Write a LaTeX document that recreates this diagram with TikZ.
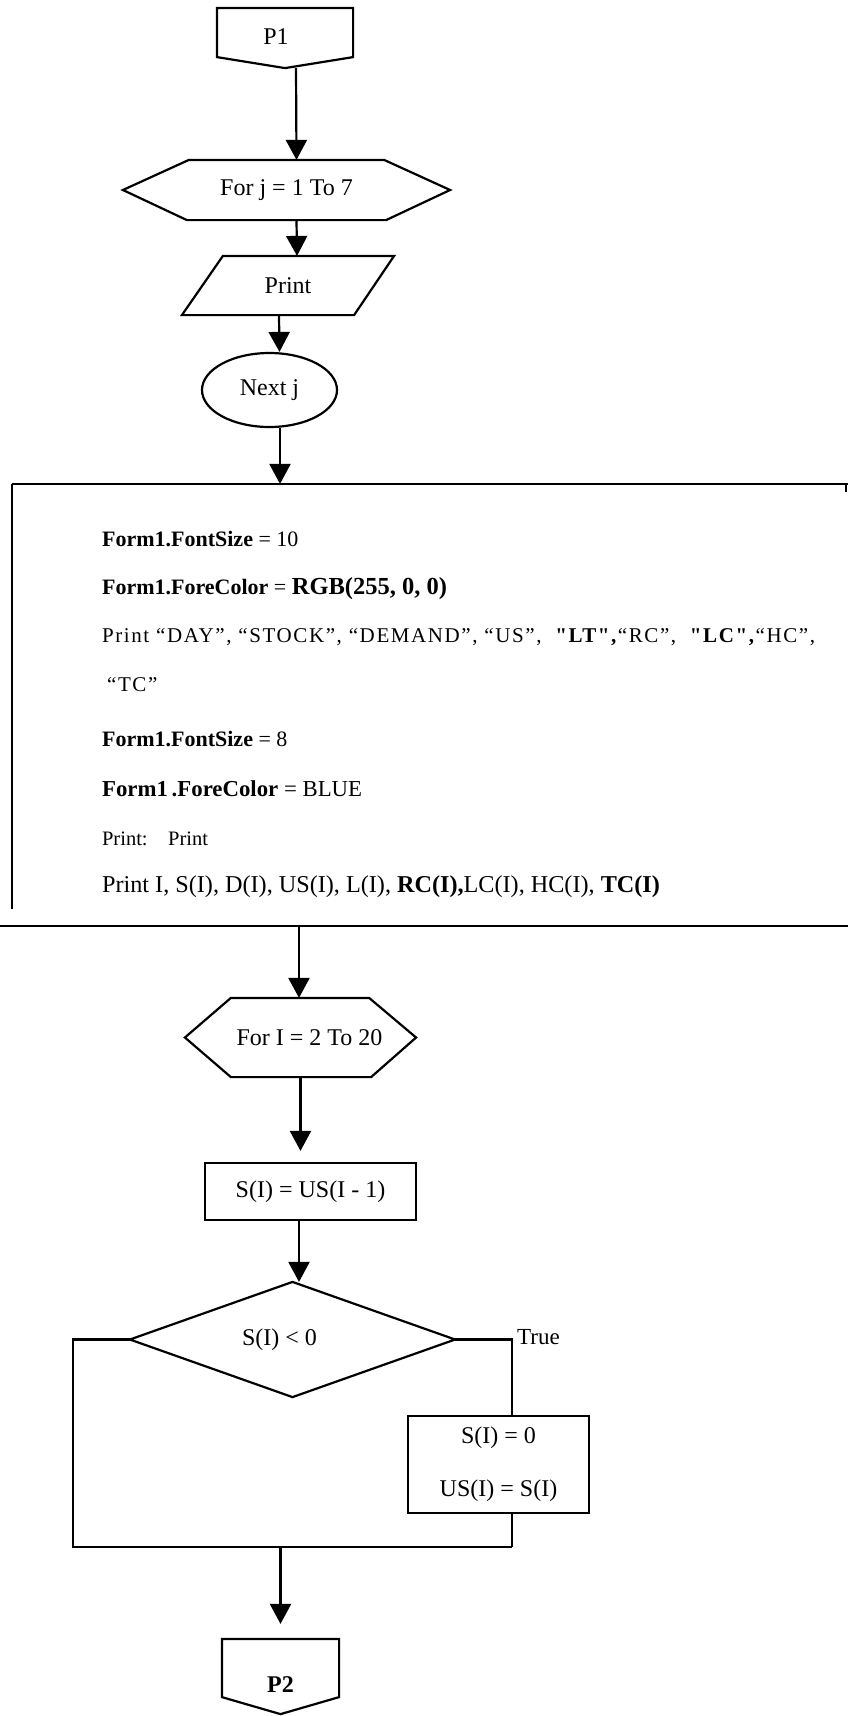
\documentclass[tikz,border=0pt]{standalone}
\usepackage{fontspec}
\setmainfont{Liberation Serif}
\newfontfamily\spacedfont[LetterSpace=7.6]{Liberation Serif}
\usetikzlibrary{arrows.meta,calc,shapes.geometric}
\begin{document}
\begin{tikzpicture}[x=1pt,y=-1pt,
  line width=2.2pt,
  arr/.style={-{Triangle[length=20pt,width=21pt]}},
  frame/.style={draw=none,inner sep=0pt,font=\fontsize{24}{28}\selectfont},
  box/.style={draw,inner sep=0pt,font=\fontsize{24}{28}\selectfont},
  shp/.style={line join=miter},
  codeline/.style={anchor=west,inner sep=0pt,font=\fontsize{22}{26}\selectfont},
]
\fill[white] (0,0) rectangle (847,1716);
\useasboundingbox (0,0) rectangle (847,1716);

% P1 off-page connector
\node[frame,minimum width=134pt,minimum height=58pt,text height=12pt,text depth=0pt] (p1) at (285,38) {\hspace*{-18pt}P1};
\draw[shp] (p1.north west) -- (p1.north east) -- ($(p1.south east)+(0,-11)$) -- (p1.south) -- ($(p1.south west)+(0,-11)$) -- cycle;

% For j hexagon
\node[frame,minimum width=325pt,minimum height=58pt] (h1) at (286.5,190) {For j = 1 To 7};
\draw[shp] (h1.west) -- ($(h1.north west)+(66,0)$) -- ($(h1.north east)+(-66,0)$) -- (h1.east) -- ($(h1.south east)+(-64,0)$) -- ($(h1.south west)+(64,0)$) -- cycle;
\draw[arr] ([xshift=11pt]p1.south) -- ([xshift=10pt]h1.north);

% Print parallelogram
\node[frame,minimum width=210pt,minimum height=57pt] (pr) at (288,285.5) {Print};
\draw[shp] (pr.south west) -- ($(pr.north west)+(41,0)$) -- (pr.north east) -- ($(pr.south east)+(-40,0)$) -- cycle;
\draw[arr] ([xshift=10pt]h1.south) -- ([xshift=9pt]pr.north);

% Next j ellipse
\node[frame,draw,ellipse,minimum width=135pt,minimum height=74pt] (nj) at (269.5,390) {Next j};
\draw[arr] ([xshift=-9pt]pr.south) -- ([xshift=10pt]nj.north);

% code box
\node[draw=none,minimum width=834pt,minimum height=440pt,inner sep=0pt] (code) at (430,705) {};
\coordinate (a1) at ([xshift=10.5pt]nj.south);
\draw[arr] (a1) -- (a1 |- code.north);
\draw (code.north west) -- (code.north east);
\draw ([xshift=-2pt]code.north east) -- ++(0,8);
\draw (code.north west) -- ($(code.south west)+(0,-17)$);
\draw ($(code.south west)+(-13,0)$) -- (code.south east);

\node[codeline] (c1) at (101,539) {\textbf{Form1.FontSize} = 10};
\node[codeline] (c2) at (101,589) {\textbf{Form1.ForeColor} = {\fontsize{24.5}{28}\selectfont\textbf{RGB(255, 0, 0)}}};
\node[codeline,font=\spacedfont\fontsize{21}{26}\selectfont] (c3) at (101,637) {Print “DAY”, “STOCK”, “DEMAND”, “US”, \ \textbf{"LT",}“RC”, \ \textbf{"LC",}“HC”,};
\node[codeline,font=\spacedfont\fontsize{21}{26}\selectfont] (c4) at (106,685) {“TC”};
\node[codeline] (c5) at (101,739) {\textbf{Form1.FontSize} = 8};
\node[codeline,font=\fontsize{22.8}{26}\selectfont] (c6) at (101,789) {\textbf{Form1\,.ForeColor} = BLUE};
\node[codeline,font=\fontsize{20.5}{24}\selectfont] (c7) at (101,839) {Print:\quad Print};
\node[codeline,font=\fontsize{24.2}{28}\selectfont] (c8) at (101,887) {Print I, S(I), D(I), US(I), L(I), \textbf{RC(I),}LC(I), HC(I), \textbf{TC(I)}};

% For I hexagon
\node[frame,minimum width=229pt,minimum height=77pt] (h2) at (300.5,1037.5) {\hspace*{18pt}For I = 2 To 20};
\draw[shp] (h2.west) -- ($(h2.north west)+(46,0)$) -- ($(h2.north east)+(-47,0)$) -- (h2.east) -- ($(h2.south east)+(-45,0)$) -- ($(h2.south west)+(46,0)$) -- cycle;
\coordinate (a2) at ([xshift=-131pt]code.south);
\draw[arr] (a2) -- (a2 |- h2.north);

% S(I) = US(I-1)
\node[box,minimum width=211pt,minimum height=57pt] (r1) at (310.5,1191.5) {S(I) = US(I - 1)};
\draw[arr,shorten >=11pt] (h2.south) -- (h2.south |- r1.north);

% decision
\node[frame,minimum width=323pt,minimum height=113pt] (d) at (292.5,1339.5) {\hspace*{-26pt}S(I) < 0};
\draw[shp] (d.west) -- (d.north) -- (d.east) -- (d.south) -- cycle;
\coordinate (a3) at ([xshift=-11.5pt]r1.south);
\draw[arr] (a3) -- (a3 |- d.north);

% true branch box
\node[box,minimum width=181pt,minimum height=97pt,align=center,font=\fontsize{24}{53}\selectfont] (r2) at (498.5,1464.5) {S(I) = 0\\US(I) = S(I)};

\coordinate (tx) at (512,1339.5);
\coordinate (bl) at (73,1547);
\coordinate (br) at (512,1547);
\draw (d.west) -- (d.west -| bl) -- (bl) -- (br);
\draw (d.east) -- (tx) -- (tx |- r2.north);
\draw (r2.south -| tx) -- (br);
\node[anchor=west,inner sep=0pt,font=\fontsize{23}{28}\selectfont] (tl) at ([xshift=4pt,yshift=2pt]tx) {True};

% P2 off-page connector
\node[frame,minimum width=115pt,minimum height=73pt,text height=32pt,text depth=0pt,font=\bfseries\fontsize{24}{28}\selectfont] (p2) at (280.5,1676.5) {P2};
\draw[shp] (p2.north west) -- (p2.north east) -- ($(p2.south east)+(0,-17)$) -- (p2.south) -- ($(p2.south west)+(0,-17)$) -- cycle;
\draw[arr,shorten >=15pt] (p2.north |- bl) -- (p2.north);
\end{tikzpicture}
\end{document}
